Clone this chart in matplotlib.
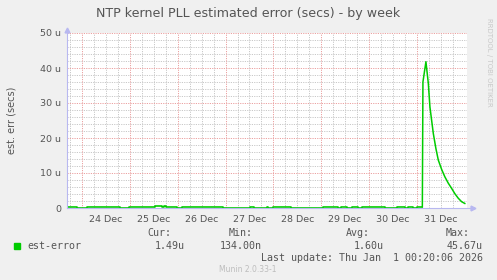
import matplotlib
matplotlib.use("Agg")
import matplotlib.pyplot as plt
import numpy as np

# ---- data (hours since 24 Dec 00:00, values in micro-seconds) ----
base_hours = [-7.5, -2.5, 2.5, 19.0, 23.6, 36.6, 40.1, 41.0, 42.0, 47.6, 50.2, 70.7,
              84.3, 86.3, 92.8, 93.5, 95.8, 104.8, 120.9, 128.4, 129.9, 132.9, 135.4,
              138.4, 140.4, 152.0, 158.0, 162.0, 163.5, 166.0, 168.0, 170.7]
base_vals = [0.3, 0.0, 0.3, 0.0, 0.3, 0.65, 0.35, 0.55, 0.3, 0.0, 0.3, 0.0,
             0.3, 0.0, 0.15, 0.0, 0.3, 0.0, 0.3, 0.0, 0.3, 0.0, 0.3,
             0.0, 0.3, 0.0, 0.3, 0.0, 0.3, 0.0, 0.3, 0.3]
spike_hours = [170.7, 171.0, 172.5, 173.7, 174.5, 176.2, 177.5, 178.7, 180.4, 182.0,
               183.7, 185.4, 187.0, 188.7, 190.4, 192.0]
spike_vals = [0.3, 36.0, 41.8, 35.6, 28.9, 21.3, 17.0, 13.7, 11.0, 8.9,
              7.1, 5.6, 4.1, 2.8, 1.8, 1.3]
day_labels = ["24 Dec", "25 Dec", "26 Dec", "27 Dec", "28 Dec", "29 Dec", "30 Dec", "31 Dec"]
ytick_vals = [0, 10, 20, 30, 40, 50]
ytick_labels = ["0", "10 u", "20 u", "30 u", "40 u", "50 u"]
stats_names = ["Cur:", "Min:", "Avg:", "Max:"]
stats_vals = ["1.49u", "134.00n", "1.60u", "45.67u"]

W, H = 497, 280
fig = plt.figure(figsize=(W / 100, H / 100), dpi=100)
fig.patch.set_facecolor("#F0F0F0")

L, R, T, B = 67, 467, 33, 208
ax = fig.add_axes([L / W, 1 - B / H, (R - L) / W, (B - T) / H])
ax.set_facecolor("white")
ax.set_xlim(-7.52, 193.1)
ax.set_ylim(0, 50)

txtc = "#555555"
minor_c = "#C8C8C8"
major_c = "#EBA0A0"
dot = (0, (1.2, 1.2))

# grid
for h in np.arange(-6, 194, 6):
    if h % 24 == 0:
        continue
    ax.axvline(h, color=minor_c, lw=0.7, ls=dot, zorder=1)
for y in np.arange(2, 50, 2):
    if y % 10 == 0:
        continue
    ax.axhline(y, color=minor_c, lw=0.7, ls=dot, zorder=1)
for i in range(len(day_labels)):
    ax.axvline(24 * i, color=major_c, lw=0.7, ls=dot, zorder=1.5)
for y in ytick_vals[1:]:
    ax.axhline(y, color=major_c, lw=0.7, ls=dot, zorder=1.5)

# data
ax.plot(base_hours, base_vals, color="#00CC00", lw=1.2, drawstyle="steps-post", zorder=3)
ax.plot(spike_hours, spike_vals, color="#00CC00", lw=1.1, zorder=3)

for s in ax.spines.values():
    s.set_visible(False)
axc = "#B8B8F0"
ax.plot([0, 1.015], [0, 0], transform=ax.transAxes, color=axc, lw=0.8, clip_on=False, zorder=4)
ax.plot([0, 0], [0, 1.02], transform=ax.transAxes, color=axc, lw=0.8, clip_on=False, zorder=4)
ax.plot([1.015], [0], transform=ax.transAxes, marker=">", color=axc, ms=3.5, clip_on=False)
ax.plot([0], [1.02], transform=ax.transAxes, marker="^", color=axc, ms=3.5, clip_on=False)

ax.set_xticks([12 + 24 * i for i in range(len(day_labels))])
ax.set_xticklabels(day_labels)
ax.set_yticks(ytick_vals)
ax.set_yticklabels(ytick_labels)
ax.tick_params(axis="both", length=0, labelsize=6.8, labelcolor=txtc, pad=4)
ax.tick_params(axis="x", pad=5)

fig.text(12 / W, 1 - 120 / H, "est. err (secs)", rotation=90, ha="center", va="center",
         fontsize=7, color=txtc)
fig.text(248 / W, 1 - 13 / H, "NTP kernel PLL estimated error (secs) - by week",
         ha="center", va="center", fontsize=9.1, color=txtc)
fig.text(489 / W, 1 - 62 / H, "RRDTOOL / TOBI OETIKER", rotation=270, ha="center",
         va="center", fontsize=5.0, color="#C8C8C8")
fig.text(248 / W, 1 - 269 / H, "Munin 2.0.33-1", ha="center", va="center",
         fontsize=5.5, color="#BDBDBD")

# legend
mono = "DejaVu Sans Mono"
fig.patches.append(matplotlib.patches.Rectangle((14 / W, 1 - 249 / H), 6 / W, 6 / H,
                   transform=fig.transFigure, color="#00CC00"))
fig.text(27 / W, 1 - 246 / H, "est-error", ha="left", va="center", fontsize=7.2,
         family=mono, color=txtc)
name_right = [171, 253, 370, 470]
val_right = [185, 262, 384, 483]
for n, v, nr, vr in zip(stats_names, stats_vals, name_right, val_right):
    fig.text(nr / W, 1 - 233 / H, n, ha="right", va="center", fontsize=7.2, family=mono, color=txtc)
    fig.text(vr / W, 1 - 246 / H, v, ha="right", va="center", fontsize=7.2, family=mono, color=txtc)
fig.text(483 / W, 1 - 258 / H, "Last update: Thu Jan  1 00:20:06 2026", ha="right",
         va="center", fontsize=7.2, family=mono, color=txtc)

fig.savefig("out.png", dpi=100, facecolor=fig.get_facecolor())
